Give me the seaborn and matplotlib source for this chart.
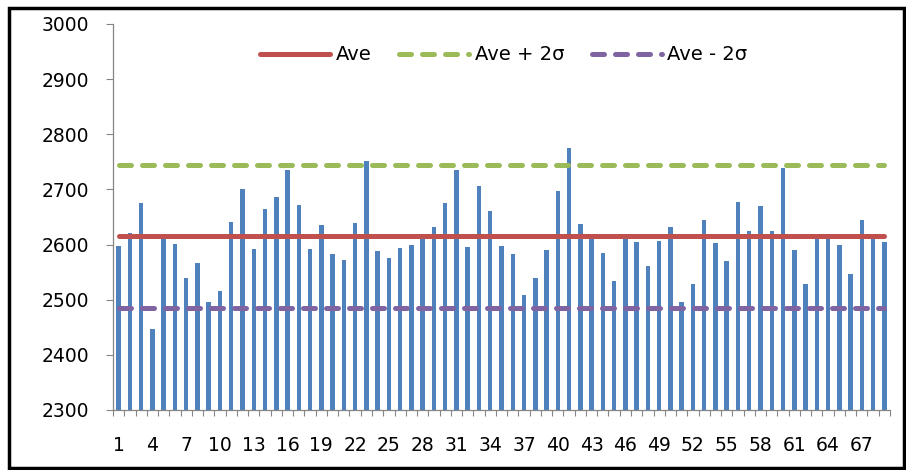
import numpy as np
import pandas as pd
import seaborn as sns
import matplotlib.pyplot as plt
from matplotlib.patches import Rectangle

# values
samples = list(range(1, 70))
values = [2597, 2621, 2675, 2446, 2612, 2601, 2539, 2567, 2496, 2515,
          2641, 2701, 2592, 2664, 2687, 2736, 2672, 2592, 2636, 2582,
          2572, 2640, 2751, 2589, 2575, 2593, 2600, 2620, 2632, 2675,
          2735, 2596, 2707, 2661, 2598, 2583, 2509, 2539, 2591, 2698,
          2776, 2637, 2611, 2585, 2534, 2611, 2604, 2562, 2606, 2632,
          2496, 2528, 2645, 2602, 2571, 2678, 2625, 2670, 2625, 2738,
          2591, 2528, 2611, 2611, 2600, 2546, 2644, 2611, 2604]
ave = 2615
ave_plus = 2745
ave_minus = 2485
legend_labels = ['Ave', 'Ave + 2σ', 'Ave - 2σ']
y_ticks = [2300, 2400, 2500, 2600, 2700, 2800, 2900, 3000]

df = pd.DataFrame({'sample': samples, 'value': values})
pos = np.arange(len(samples))

sns.set_style('white')
plt.rcParams['font.family'] = ['DejaVu Sans']
plt.rcParams['text.color'] = 'black'
plt.rcParams['xtick.color'] = 'black'
plt.rcParams['ytick.color'] = 'black'

fig = plt.figure(figsize=(9.06, 4.70), dpi=100)
ax = fig.add_axes([113/906, 1 - 410/470, 777/906, 386/470])

sns.barplot(data=df, x='sample', y='value', color='#4F81BD', saturation=1,
            width=0.4, linewidth=0, ax=ax, zorder=2)

gray = '#868686'
sns.lineplot(x=pos, y=np.full(len(pos), ave), ax=ax, color='#C0504D', lw=3.6,
             solid_capstyle='round', label=legend_labels[0], zorder=3)
sns.lineplot(x=pos, y=np.full(len(pos), ave_plus), ax=ax, color='#9BBB59', lw=3.6,
             linestyle=(0, (2.4, 2.2)), dash_capstyle='round',
             label=legend_labels[1], zorder=3)
sns.lineplot(x=pos, y=np.full(len(pos), ave_minus), ax=ax, color='#8064A2', lw=3.6,
             linestyle=(0, (2.4, 2.2)), dash_capstyle='round',
             label=legend_labels[2], zorder=3)

ax.set_ylim(2300, 3000)
ax.set_xlim(-0.5, len(samples) - 0.5)
ax.set_yticks(y_ticks)
ax.set_yticklabels([str(t) for t in y_ticks])
ax.set_xticks(pos[::3])
ax.set_xticklabels([str(s) for s in samples[::3]])
ax.set_xticks(np.arange(-0.5, len(samples)), minor=True)
ax.tick_params(axis='x', which='major', length=0, pad=18.5, labelsize=13.5,
               labelcolor='black')
ax.tick_params(axis='x', which='minor', length=4.5, width=0.8, color=gray,
               direction='out', bottom=True)
ax.tick_params(axis='y', which='major', length=5, width=0.8, color=gray,
               direction='out', left=True, pad=12, labelsize=13.5,
               labelcolor='black')
ax.set_xlabel('')
ax.set_ylabel('')

for s in ['top', 'right']:
    ax.spines[s].set_visible(False)
for s in ['left', 'bottom']:
    ax.spines[s].set_color(gray)
    ax.spines[s].set_linewidth(0.9)

leg = ax.legend(loc='center', bbox_to_anchor=(0.503, 0.92), ncol=3, frameon=False,
                fontsize=14, handlelength=3.6, handletextpad=0.3,
                columnspacing=1.4)
for t in leg.get_texts():
    t.set_color('black')

fig.patches.append(Rectangle((9/906, 2/470), 895/906, 460/470,
                             transform=fig.transFigure, fill=False,
                             lw=2.5, ec='black'))

fig.savefig('out.png', dpi=100)
